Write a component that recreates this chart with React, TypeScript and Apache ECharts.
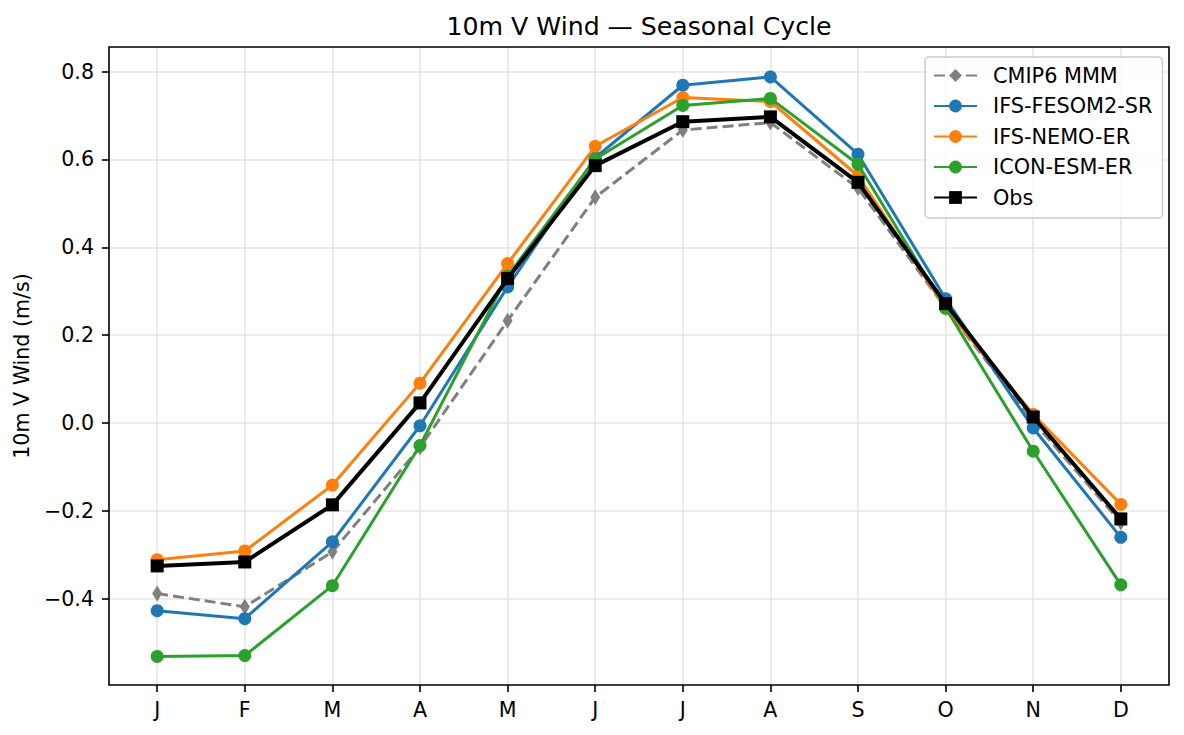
import React, { useEffect, useRef } from "react";
import * as echarts from "echarts";

const months = ["J", "F", "M", "A", "M", "J", "J", "A", "S", "O", "N", "D"];
const yTicks = [-0.4, -0.2, 0.0, 0.2, 0.4, 0.6, 0.8];

const cmip6 = [-0.388, -0.418, -0.293, -0.055, 0.233, 0.514, 0.667, 0.684, 0.535, 0.262, 0.004, -0.226];
const fesom = [-0.427, -0.445, -0.27, -0.006, 0.31, 0.604, 0.769, 0.788, 0.612, 0.283, -0.011, -0.26];
const nemo = [-0.311, -0.291, -0.141, 0.091, 0.363, 0.63, 0.741, 0.732, 0.563, 0.261, 0.02, -0.185];
const icon = [-0.531, -0.529, -0.37, -0.051, 0.335, 0.601, 0.723, 0.739, 0.589, 0.262, -0.064, -0.368];
const obs = [-0.325, -0.316, -0.186, 0.046, 0.329, 0.586, 0.686, 0.697, 0.548, 0.272, 0.014, -0.218];

const seriesNames = ["CMIP6 MMM", "IFS-FESOM2-SR", "IFS-NEMO-ER", "ICON-ESM-ER", "Obs"];

const W = 1184;
const H = 735;
const PL = 109;
const PR = 1169;
const PT = 47;
const PB = 685;
const XMIN = -0.55;
const XMAX = 11.55;
const YMIN = -0.596;
const YMAX = 0.856;
const FONT = "DejaVu Sans";
const GRIDCOL = "#e6e6e6";

const xPix = (v: number) => PL + ((v - XMIN) / (XMAX - XMIN)) * (PR - PL);
const yPix = (v: number) => PT + ((YMAX - v) / (YMAX - YMIN)) * (PB - PT);

const fmt = (v: number) => {
  const s = Math.abs(v) < 1e-9 ? "0.0" : v.toFixed(1);
  return s.replace("-", "\u2212");
};

export default function App() {
  const ref = useRef<HTMLDivElement>(null);
  useEffect(() => {
    if (!ref.current) return;
    const chart = echarts.init(ref.current, null, { renderer: "svg" });
    const tickMin = yTicks[0];
    const tickMax = yTicks[yTicks.length - 1];
    const option: any = {
      animation: false,
      backgroundColor: "#ffffff",
      textStyle: { fontFamily: FONT, color: "#000" },
      graphic: [
        {
          type: "text",
          x: (PL + PR) / 2,
          y: 26,
          z: 10,
          style: {
            text: "10m V Wind \u2014 Seasonal Cycle",
            fontFamily: FONT,
            fontSize: 25.2,
            fill: "#000",
            textAlign: "center",
            textVerticalAlign: "middle",
          },
        },
      ],
      legend: {
        data: seriesNames,
        orient: "vertical",
        left: 925,
        top: 57,
        padding: [8, 10, 10, 8],
        itemWidth: 43,
        itemHeight: 16,
        itemGap: 9.5,
        backgroundColor: "rgba(255,255,255,0.8)",
        borderColor: "#cccccc",
        borderWidth: 1.5,
        borderRadius: 4,
        textStyle: { fontFamily: FONT, fontSize: 20.8, color: "#000", padding: [0, 0, 0, 11] },
        z: 20,
      },
      grid: [
        {
          left: PL,
          right: W - PR,
          top: PT,
          bottom: H - PB,
          show: true,
          borderColor: "#000",
          borderWidth: 1.6,
          backgroundColor: "transparent",
          z: 5,
        },
        {
          left: xPix(0),
          right: W - xPix(11),
          top: PT,
          bottom: H - PB,
        },
        {
          left: PL,
          right: W - PR,
          top: yPix(tickMax),
          bottom: H - yPix(tickMin),
        },
      ],
      xAxis: [
        { gridIndex: 0, type: "value", min: XMIN, max: XMAX, show: false },
        {
          gridIndex: 1,
          type: "category",
          data: months,
          boundaryGap: false,
          position: "bottom",
          axisLine: { show: false, onZero: false },
          axisTick: { show: true, length: 7, interval: 0, lineStyle: { color: "#000", width: 1.6 } },
          axisLabel: { interval: 0, margin: 14, fontSize: 20.6, color: "#000", fontFamily: FONT },
          splitLine: { show: true, interval: 0, lineStyle: { color: GRIDCOL, width: 1.6 } },
        },
        { gridIndex: 2, type: "value", min: 0, max: 1, show: false },
      ],
      yAxis: [
        {
          gridIndex: 0,
          type: "value",
          min: YMIN,
          max: YMAX,
          axisLine: { show: false },
          axisTick: { show: false },
          axisLabel: { show: false },
          splitLine: { show: false },
          name: "10m V Wind (m/s)",
          nameLocation: "middle",
          nameGap: 77,
          nameTextStyle: { fontFamily: FONT, fontSize: 20.6, color: "#000" },
        },
        { gridIndex: 1, type: "value", min: YMIN, max: YMAX, show: false },
        {
          gridIndex: 2,
          type: "value",
          min: tickMin,
          max: tickMax,
          interval: 0.2,
          axisLine: { show: false, onZero: false },
          axisTick: { show: true, length: 7, lineStyle: { color: "#000", width: 1.6 } },
          axisLabel: { margin: 15, fontSize: 20.6, color: "#000", fontFamily: FONT, formatter: fmt },
          splitLine: { show: true, lineStyle: { color: GRIDCOL, width: 1.6 } },
        },
      ],
      series: [
        {
          name: seriesNames[0],
          type: "line",
          xAxisIndex: 1,
          yAxisIndex: 1,
          data: cmip6,
          symbol: "diamond",
          symbolSize: [10, 16],
          itemStyle: { color: "#808080" },
          lineStyle: { color: "#808080", width: 3, type: [11, 5] },
          z: 11,
        },
        {
          name: seriesNames[1],
          type: "line",
          xAxisIndex: 1,
          yAxisIndex: 1,
          data: fesom,
          symbol: "circle",
          symbolSize: 13,
          itemStyle: { color: "#1f77b4" },
          lineStyle: { color: "#1f77b4", width: 3 },
          z: 12,
        },
        {
          name: seriesNames[2],
          type: "line",
          xAxisIndex: 1,
          yAxisIndex: 1,
          data: nemo,
          symbol: "circle",
          symbolSize: 13,
          itemStyle: { color: "#ff7f0e" },
          lineStyle: { color: "#ff7f0e", width: 3 },
          z: 13,
        },
        {
          name: seriesNames[3],
          type: "line",
          xAxisIndex: 1,
          yAxisIndex: 1,
          data: icon,
          symbol: "circle",
          symbolSize: 13,
          itemStyle: { color: "#2ca02c" },
          lineStyle: { color: "#2ca02c", width: 3 },
          z: 14,
        },
        {
          name: seriesNames[4],
          type: "line",
          xAxisIndex: 1,
          yAxisIndex: 1,
          data: obs,
          symbol: "rect",
          symbolSize: 13,
          itemStyle: { color: "#000000" },
          lineStyle: { color: "#000000", width: 4 },
          z: 15,
        },
      ],
    };
    chart.setOption(option);
    return () => chart.dispose();
  }, []);
  return (
    <div
      ref={ref}
      style={{ position: "absolute", left: 0, top: 0, width: W, height: H }}
    />
  );
}
